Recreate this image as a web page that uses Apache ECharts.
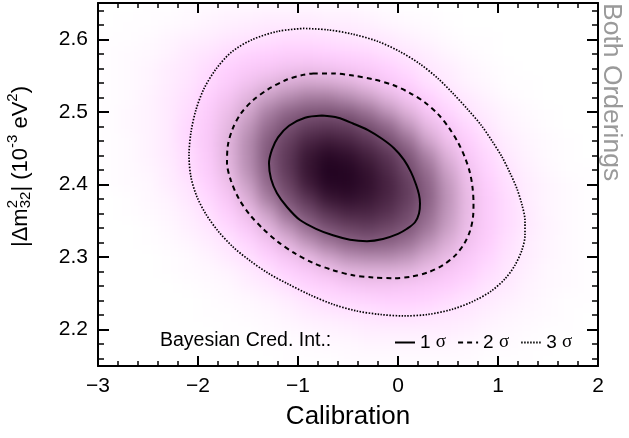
<!DOCTYPE html>
<html>
<head>
<meta charset="utf-8">
<script src="https://cdn.jsdelivr.net/npm/echarts@6/dist/echarts.min.js"></script>
<style>
html,body{margin:0;padding:0;background:#ffffff;}
#wrap{position:relative;width:629px;height:438px;overflow:hidden;}
#heat,#main{position:absolute;left:0;top:0;width:629px;height:438px;}
#heat{filter:blur(7px);clip-path:inset(3px 31px 72px 98px);}
</style>
</head>
<body>
<div id="wrap"><div id="heat"></div><div id="main"></div></div>
<script>
// ---------------- data ----------------
// x bin centres (Calibration), 0.2 wide bins from -3 to 2
const calibX = [-2.9,-2.7,-2.5,-2.3,-2.1,-1.9,-1.7,-1.5,-1.3,-1.1,-0.9,-0.7,-0.5,-0.3,-0.1,0.1,0.3,0.5,0.7,0.9,1.1,1.3,1.5,1.7,1.9];
// y bin centres (|dm2_32|), 0.02 wide bins, listed top to bottom
const dmY = [2.64,2.62,2.60,2.58,2.56,2.54,2.52,2.50,2.48,2.46,2.44,2.42,2.40,2.38,2.36,2.34,2.32,2.30,2.28,2.26,2.24,2.22,2.20,2.18,2.16];
// posterior shading level (0..100) per bin, rows follow dmY
const density = [
 [0,0,1,1,2,3,4,4,5,5,5,4,4,3,2,1,1,0,0,0,0,0,0,0,0],
 [0,1,1,2,3,5,6,7,8,8,8,7,7,6,4,3,2,1,0,0,0,0,0,0,0],
 [1,1,2,4,6,7,9,10,11,12,12,11,10,9,8,6,4,2,1,1,0,0,0,0,0],
 [1,2,3,5,8,10,12,14,15,16,16,15,14,13,11,9,7,4,2,1,0,0,0,0,0],
 [1,2,4,7,9,12,15,18,20,22,23,22,20,18,15,12,9,7,4,2,1,0,0,0,0],
 [1,2,4,7,10,13,17,22,26,29,31,30,28,24,19,15,11,8,5,3,1,1,0,0,0],
 [1,2,5,8,11,15,21,27,33,38,42,42,38,33,27,21,15,11,8,5,2,1,0,0,0],
 [1,3,5,8,12,17,24,31,41,49,54,55,52,45,36,28,20,14,10,7,4,2,1,0,0],
 [1,3,5,8,13,18,26,35,47,58,68,71,68,58,48,36,26,19,13,9,5,3,1,0,0],
 [1,2,5,8,13,19,27,38,52,67,80,85,81,72,59,46,32,23,16,11,7,4,2,1,0],
 [1,2,5,8,12,18,27,38,54,71,88,96,92,83,72,55,40,28,19,13,8,5,2,1,0],
 [1,2,4,7,12,17,26,37,52,71,89,100,98,90,78,62,46,32,22,14,10,6,3,1,1],
 [1,2,3,7,10,15,23,33,48,65,85,97,98,92,82,68,50,35,24,16,11,7,4,2,1],
 [0,1,3,5,9,13,20,29,42,56,73,88,92,88,80,68,51,36,25,17,12,7,4,2,1],
 [0,1,2,4,7,11,16,24,33,47,59,73,80,80,74,62,48,35,25,17,12,8,4,2,1],
 [0,0,1,3,6,9,13,19,27,36,47,57,65,68,63,55,44,33,24,17,12,8,5,2,1],
 [0,0,1,2,4,7,10,14,21,28,36,44,50,53,51,46,37,29,22,16,11,7,4,2,1],
 [0,0,0,1,2,5,8,11,15,21,26,32,37,39,39,36,30,25,19,14,10,7,4,2,1],
 [0,0,0,1,2,3,5,8,11,15,19,23,27,28,28,27,24,20,16,12,9,6,3,2,1],
 [0,0,0,0,1,2,3,6,8,11,14,16,19,21,21,20,18,16,13,10,8,5,3,2,1],
 [0,0,0,0,0,1,2,3,5,7,10,12,13,14,15,15,14,12,10,8,6,4,2,1,1],
 [0,0,0,0,0,1,1,2,3,5,7,8,9,10,11,11,10,9,8,6,4,3,2,1,0],
 [0,0,0,0,0,0,1,1,2,3,4,5,6,7,7,7,7,7,6,4,3,2,1,1,0],
 [0,0,0,0,0,0,0,0,1,1,2,3,3,4,4,4,4,4,3,2,2,1,1,0,0],
 [0,0,0,0,0,0,0,0,0,1,1,1,2,2,2,2,2,2,2,1,1,1,0,0,0]
];
// credible-interval contours [Calibration, |dm2|]
const sigma1 = [[-0.76,2.495],[-0.60,2.492],[-0.45,2.484],[-0.30,2.475],[-0.16,2.463],[-0.04,2.450],[0.06,2.434],[0.13,2.417],[0.18,2.400],[0.21,2.386],[0.22,2.374],[0.21,2.360],[0.17,2.348],[0.09,2.339],[0.00,2.332],[-0.15,2.325],[-0.31,2.322],[-0.48,2.324],[-0.65,2.330],[-0.82,2.339],[-0.98,2.351],[-1.11,2.369],[-1.21,2.388],[-1.27,2.408],[-1.29,2.429],[-1.26,2.448],[-1.20,2.465],[-1.09,2.481],[-0.93,2.492],[-0.76,2.495]];
const sigma2 = [[-0.85,2.553],[-0.65,2.553],[-0.45,2.550],[-0.25,2.545],[-0.05,2.537],[0.12,2.526],[0.27,2.513],[0.40,2.497],[0.51,2.478],[0.60,2.458],[0.67,2.437],[0.72,2.416],[0.745,2.396],[0.755,2.375],[0.75,2.355],[0.72,2.336],[0.66,2.318],[0.57,2.302],[0.45,2.289],[0.30,2.279],[0.13,2.273],[-0.05,2.271],[-0.25,2.272],[-0.45,2.275],[-0.65,2.282],[-0.85,2.292],[-1.03,2.305],[-1.20,2.321],[-1.35,2.339],[-1.48,2.358],[-1.59,2.380],[-1.67,2.405],[-1.71,2.430],[-1.70,2.455],[-1.65,2.478],[-1.57,2.498],[-1.45,2.516],[-1.30,2.531],[-1.12,2.544],[-0.95,2.551],[-0.85,2.553]];
const sigma3 = [[-0.95,2.615],[-0.70,2.613],[-0.45,2.607],[-0.20,2.597],[0.02,2.583],[0.22,2.566],[0.40,2.546],[0.56,2.524],[0.70,2.503],[0.83,2.482],[0.94,2.460],[1.04,2.438],[1.12,2.416],[1.19,2.394],[1.24,2.372],[1.27,2.350],[1.27,2.330],[1.24,2.310],[1.17,2.289],[1.07,2.270],[0.93,2.253],[0.75,2.239],[0.54,2.228],[0.30,2.221],[0.06,2.219],[-0.18,2.221],[-0.42,2.226],[-0.65,2.235],[-0.88,2.248],[-1.10,2.263],[-1.30,2.278],[-1.48,2.295],[-1.65,2.314],[-1.80,2.336],[-1.92,2.359],[-2.01,2.383],[-2.07,2.410],[-2.09,2.440],[-2.07,2.472],[-2.02,2.503],[-1.94,2.532],[-1.82,2.559],[-1.66,2.583],[-1.45,2.600],[-1.20,2.611],[-0.95,2.615]];
// tick values
const xTicks = [-3,-2,-1,0,1,2];
const yMajor = [2.2,2.3,2.4,2.5,2.6];
const yMinor = [2.16,2.18,2.22,2.24,2.26,2.28,2.32,2.34,2.36,2.38,2.42,2.44,2.46,2.48,2.52,2.54,2.56,2.58,2.62,2.64];
const legendNames = ['1 σ','2 σ','3 σ'];

// ---------------- styles ----------------
const FONT = '"Liberation Sans", Arial, Helvetica, sans-serif';
const SERIF = '"Liberation Serif", "DejaVu Serif", serif';
const heatColors = ['#ffffff','#fff3ff','#ffe4ff','#ffd0ff','#f8c6f6','#eabce6','#d7abd2','#c298bd','#ae85a9','#9c7396','#8c6386','#7e5678','#744d6e','#6b4464','#603a5a','#563050','#4b2645','#401c3a','#351330','#2b0a28','#210320'];
const GRID = {left:98,right:31,top:3,bottom:72};

// ---------------- heat layer ----------------
const heatData = [];
density.forEach((row, r) => row.forEach((v, c) => heatData.push([c, r, v])));
const heat = echarts.init(document.getElementById('heat'));
heat.setOption({
  animation:false,
  backgroundColor:'#ffffff',
  grid:GRID,
  xAxis:{type:'category',data:calibX.map(String),show:false},
  yAxis:{type:'category',data:dmY.map(String),show:false,inverse:true},
  visualMap:{show:false,min:0,max:100,inRange:{color:heatColors}},
  series:[{type:'heatmap',data:heatData,silent:true,itemStyle:{borderWidth:0}}]
});

// ---------------- y title (stacked scripts) ----------------
const mctx = document.createElement('canvas').getContext('2d');
function tw(t, s, fam){ mctx.font = s + 'px ' + fam; return mctx.measureText(t).width; }
const MAIN = 22, SCR = 15, SUP = -8.5, SUB = 4.5;
const parts = [
  [{t:'|\u0394m', s:MAIN, dy:0}],
  [{t:'2', s:SCR, dy:SUP},{t:'32', s:SCR, dy:SUB}],
  [{t:'| (10', s:MAIN, dy:0}],
  [{t:'-3', s:SCR, dy:SUP}],
  [{t:' eV', s:MAIN, dy:0}],
  [{t:'2', s:SCR, dy:SUP}],
  [{t:')', s:MAIN, dy:0}]
];
let total = 0;
const widths = parts.map(p => Math.max(...p.map(q => tw(q.t, q.s, FONT))));
widths.forEach(w => total += w);
const yTitleChildren = [];
let cx = -total/2;
parts.forEach((p, i) => {
  p.forEach(q => {
    yTitleChildren.push({type:'text', x:cx, y:q.dy, style:{text:q.t, fontSize:q.s, fontFamily:FONT, fill:'#000', align:'left', verticalAlign:'middle', textAlign:'left', textVerticalAlign:'middle'}});
  });
  cx += widths[i];
});

// ---------------- main chart ----------------
const fmtX = v => (v < 0 ? '\u2212' + (-v) : String(v));
const axLine = {show:true, onZero:false, lineStyle:{color:'#000', width:2}};
const noLine = {show:false, onZero:false};
const majTick = len => ({show:true, inside:true, length:len, lineStyle:{color:'#000', width:2}});
const minTickX = {show:true, splitNumber:5, length:5, lineStyle:{color:'#000', width:1.5}};

function yAxisPair(pos, labels){
  return [
    {type:'value', min:2.15, max:2.65, position:pos, axisLine:axLine,
     axisTick:Object.assign(majTick(11), {customValues:yMajor}),
     axisLabel:{show:labels, customValues:yMajor, formatter:v => v.toFixed(1), fontSize:21, color:'#000', margin:10, fontFamily:FONT},
     splitLine:{show:false}},
    {type:'value', min:2.15, max:2.65, position:pos, axisLine:noLine,
     axisTick:{show:true, inside:true, length:6, customValues:yMinor, lineStyle:{color:'#000', width:1.5}},
     axisLabel:{show:false}, splitLine:{show:false}}
  ];
}

const chart = echarts.init(document.getElementById('main'));
chart.setOption({
  animation:false,
  backgroundColor:'transparent',
  textStyle:{fontFamily:FONT},
  grid:GRID,
  xAxis:[
    {type:'value', min:xTicks[0], max:xTicks[xTicks.length-1], interval:1, position:'bottom', axisLine:axLine,
     axisTick:majTick(10), minorTick:minTickX, splitLine:{show:false}, minorSplitLine:{show:false},
     axisLabel:{formatter:fmtX, fontSize:21, color:'#000', margin:10, fontFamily:FONT},
     name:'Calibration', nameLocation:'middle', nameGap:38, nameTextStyle:{fontSize:26, color:'#000', fontFamily:FONT}},
    {type:'value', min:xTicks[0], max:xTicks[xTicks.length-1], interval:1, position:'top', axisLine:axLine,
     axisTick:majTick(10), minorTick:minTickX, splitLine:{show:false}, axisLabel:{show:false}}
  ],
  yAxis:[].concat(yAxisPair('left', true), yAxisPair('right', false)),
  legend:{
    left:389, top:328, itemWidth:20, itemHeight:20, itemGap:11,
    data:legendNames, selectedMode:false,
    itemStyle:{opacity:0},
    formatter:name => '{n|' + name.split(' ')[0] + '} {s|σ}',
    textStyle:{fontSize:19, color:'#000', fontFamily:FONT,
      rich:{n:{fontSize:19, fontFamily:FONT, color:'#000'}, s:{fontSize:19, fontFamily:SERIF, color:'#000'}}}
  },
  graphic:[
    {type:'text', x:160, y:341, style:{text:'Bayesian Cred. Int.:', fontSize:19.5, fontFamily:FONT, fill:'#000', align:'left', verticalAlign:'middle', textAlign:'left', textVerticalAlign:'middle'}},
    {type:'text', x:611, y:3, rotation:-Math.PI/2, style:{text:'Both Orderings', fontSize:26.5, fontFamily:FONT, fill:'#9a9a9a', align:'left', verticalAlign:'middle', textAlign:'left', textVerticalAlign:'middle'}},
    {type:'group', x:21, y:166.5, rotation:Math.PI/2, children:yTitleChildren}
  ],
  series:[
    {type:'line', name:legendNames[0], data:sigma1, smooth:0.3, symbol:'none', silent:true, lineStyle:{color:'#000', width:2, type:'solid'}, itemStyle:{color:'#000'}},
    {type:'line', name:legendNames[1], data:sigma2, smooth:0.3, symbol:'none', silent:true, lineStyle:{color:'#000', width:2, type:[5,4]}, itemStyle:{color:'#000'}},
    {type:'line', name:legendNames[2], data:sigma3, smooth:0.3, symbol:'none', silent:true, lineStyle:{color:'#000', width:1.7, type:[1.5,1.5]}, itemStyle:{color:'#000'}}
  ]
});
</script>
</body>
</html>
